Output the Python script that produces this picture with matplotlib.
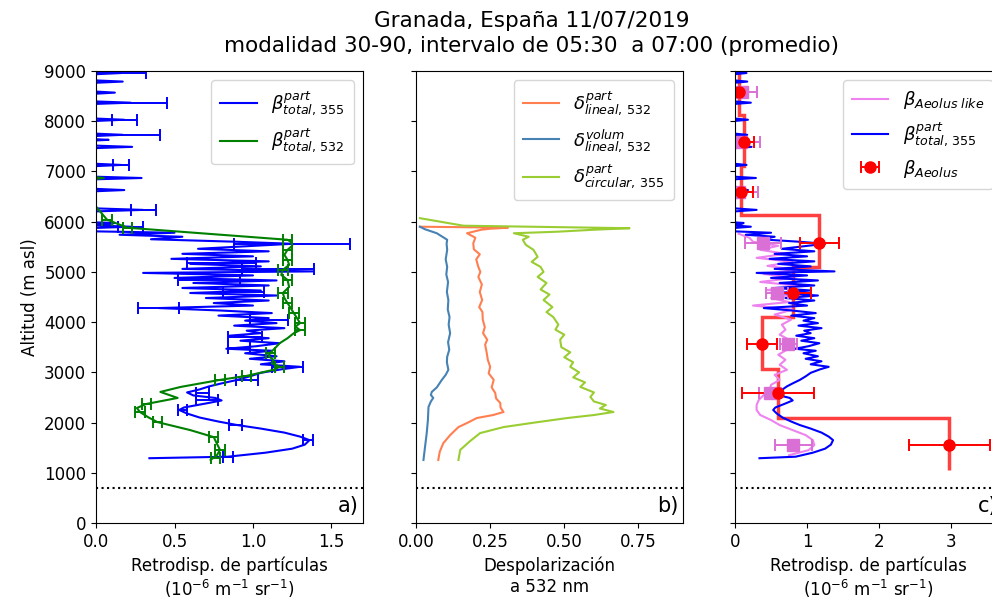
import matplotlib

matplotlib.use("Agg")
import matplotlib.pyplot as plt
import numpy as np

# --- panel a / c : particle backscatter 355 nm (lidar) ---
b355_alt = [1290, 1320, 1400, 1480, 1560, 1650, 1720, 1800, 1880, 1950, 2020, 2100, 2180, 2250,
            2300, 2380, 2440, 2490, 2540, 2600, 2660, 2720, 2780, 2850, 2920, 2990, 3060, 3110,
            3160, 3220, 3270, 3320, 3380, 3430, 3470, 3520, 3580, 3630, 3680, 3730, 3780, 3830,
            3880, 3930, 3980, 4030, 4080, 4130, 4180, 4230, 4280, 4330, 4380, 4430, 4480, 4530,
            4580, 4630, 4680, 4730, 4780, 4830, 4880, 4930, 4980, 5010, 5060, 5110, 5160, 5210,
            5260, 5310, 5360, 5410, 5460, 5510, 5560, 5600, 5650, 5700, 5740, 5780, 5810,
            5870, 5900, 5930, 5960, 5975, 5990, 6200, 6235, 6270, 6600, 6630, 6660, 6840, 6870,
            6900, 7100, 7130, 7160, 7460, 7490, 7520, 7610, 7630, 7650, 7700, 7730, 7760, 8000,
            8030, 8060, 8340, 8370, 8400, 8540, 8570, 8600, 8760, 8790, 8820, 8930, 8960, 8990]
b355_val = [0.34, 0.84, 1.08, 1.25, 1.33, 1.36, 1.3, 1.2, 1.05, 0.9, 0.78, 0.66, 0.58, 0.53,
            0.56, 0.7, 0.8, 0.76, 0.62, 0.58, 0.66, 0.72, 0.8, 0.9, 0.98, 1.05, 1.18, 1.3,
            1.05, 1.2, 0.98, 1.15, 0.95, 1.12, 0.83, 1.02, 1.17, 0.92, 1.1, 0.85, 1.05, 0.96,
            1.2, 0.88, 1.15, 0.95, 1.1, 0.78, 1.12, 0.8, 0.4, 1.0, 0.75, 1.1, 0.7, 1.15,
            0.6, 1.05, 0.55, 1.1, 0.62, 1.15, 0.5, 1.0, 0.3, 1.38, 0.55, 1.05, 0.6, 1.1,
            0.48, 1.0, 0.55, 1.1, 0.65, 0.95, 1.25, 0.9, 0.35, 0.55, 0.15, 0.5, -0.05,
            -0.05, 0.22, -0.05, 0.1, 0.12, -0.05, -0.05, 0.3, -0.05, -0.05, 0.18, -0.05, -0.05, 0.29,
            -0.05, -0.05, 0.16, -0.05, -0.05, 0.23, -0.05, -0.05, 0.08, -0.05, -0.05, 0.17, -0.05, -0.05,
            0.18, -0.05, -0.05, 0.22, -0.05, -0.05, 0.12, -0.05, -0.05, 0.17, -0.05, -0.05, 0.16, -0.05]

b355_err_alt = [1320, 1650, 1950, 2250, 2450, 2590, 2850, 3110, 3490, 3710, 4040, 4280, 4600, 4840,
                5060, 5180, 5560, 5900, 6235, 7130, 7730, 8030, 8370, 8960]
b355_err_val = [0.84, 1.35, 0.89, 0.55, 0.71, 0.68, 0.96, 1.22, 0.91, 0.95, 1.1, 0.4, 0.94, 0.72,
                1.16, 0.8, 1.25, 0.22, 0.3, 0.16, 0.17, 0.18, 0.22, 0.16]
b355_err = [0.03, 0.03, 0.04, 0.03, 0.07, 0.04, 0.07, 0.1, 0.07, 0.11, 0.12, 0.13, 0.13, 0.2,
            0.23, 0.22, 0.37, 0.08, 0.08, 0.05, 0.24, 0.08, 0.23, 0.16]

# --- panel a : particle backscatter 532 nm ---
b532_alt = [1255, 1350, 1455, 1580, 1710, 1850, 2010, 2110, 2210, 2290, 2370, 2490, 2610, 2710,
            2850, 2930, 3050, 3110, 3180, 3250, 3320, 3390, 3480, 3580, 3680, 3780, 3840, 3910,
            3980, 4080, 4180, 4280, 4380, 4480, 4580, 4700, 4840, 4940, 5040, 5140, 5240, 5340,
            5440, 5520, 5600, 5640, 5880, 6040, 6300, 6400, 6840, 6870, 6900, 7000]
b532_val = [0.73, 0.77, 0.79, 0.77, 0.75, 0.6, 0.39, 0.33, 0.28, 0.26, 0.32, 0.52, 0.41, 0.54,
            0.79, 0.96, 1.13, 1.17, 1.12, 1.13, 1.1, 1.11, 1.14, 1.17, 1.22, 1.26, 1.3, 1.27,
            1.3, 1.28, 1.26, 1.24, 1.22, 1.2, 1.19, 1.23, 1.22, 1.18, 1.19, 1.23, 1.22, 1.2,
            1.22, 1.25, 1.24, 1.22, 0.2, 0.07, 0.0, -0.05, -0.05, 0.05, -0.05, -0.05]
b532_err_alt = [1290, 1455, 1710, 2010, 2210, 2370, 2850, 2930, 3110, 3390, 3840, 3980, 4180,
                4380, 4580, 4840, 5040, 5240, 5440, 5640, 5880, 6040]
b532_err_val = [0.76, 0.79, 0.75, 0.39, 0.28, 0.32, 0.79, 0.96, 1.17, 1.11, 1.3, 1.3, 1.26,
                1.22, 1.19, 1.22, 1.19, 1.22, 1.22, 1.22, 0.2, 0.07]
b532_err = [0.03, 0.03, 0.03, 0.03, 0.03, 0.03, 0.03, 0.03, 0.03, 0.03, 0.03, 0.03, 0.03,
            0.03, 0.03, 0.03, 0.03, 0.03, 0.03, 0.03, 0.03, 0.03]

# --- panel b : depolarization ratios ---
dvol_alt = [1255, 1500, 1790, 2050, 2310, 2420, 2490, 2550, 2610, 2700, 2850, 2950, 3050, 3200,
            3310, 3450, 3600, 3780, 3950, 4100, 4250, 4440, 4600, 4800, 4950, 5100, 5250, 5440,
            5560, 5640, 5770, 5850, 5900]
dvol_val = [0.025, 0.03, 0.036, 0.04, 0.042, 0.05, 0.058, 0.05, 0.053, 0.07, 0.087, 0.1, 0.109,
            0.104, 0.105, 0.112, 0.108, 0.115, 0.11, 0.113, 0.107, 0.109, 0.104, 0.108, 0.102,
            0.105, 0.1, 0.105, 0.103, 0.105, 0.07, 0.03, 0.013]
dpart_alt = [1255, 1420, 1590, 1750, 1910, 2000, 2090, 2150, 2210, 2300, 2390, 2480, 2590, 2700,
             2850, 2980, 3110, 3250, 3400, 3550, 3650, 3780, 3900, 4050, 4200, 4300, 4440,
             4600, 4750, 4900, 5000, 5100, 5250, 5350, 5450, 5570, 5680, 5770, 5840, 5860,
             5880, 5900]
dpart_val = [0.075, 0.08, 0.092, 0.115, 0.143, 0.175, 0.205, 0.26, 0.295, 0.285, 0.284, 0.27,
             0.267, 0.255, 0.262, 0.245, 0.25, 0.242, 0.238, 0.233, 0.24, 0.226, 0.232, 0.225,
             0.224, 0.213, 0.223, 0.215, 0.222, 0.21, 0.217, 0.21, 0.203, 0.215, 0.195, 0.193,
             0.2, 0.172, 0.22, 0.25, 0.31, 0.013]
dcirc_alt = [1255, 1455, 1620, 1790, 1910, 2000, 2090, 2150, 2210, 2280, 2350, 2420, 2510, 2600,
             2710, 2800, 2900, 3000, 3110, 3200, 3300, 3400, 3500, 3650, 3750, 3850, 3950,
             4100, 4200, 4300, 4440, 4550, 4650, 4780, 4900, 5000, 5100, 5200, 5300, 5440,
             5540, 5640, 5700, 5770, 5800, 5840, 5870, 5920, 6070]
dcirc_val = [0.143, 0.149, 0.18, 0.216, 0.295, 0.4, 0.51, 0.6, 0.666, 0.62, 0.64, 0.6, 0.588,
             0.6, 0.554, 0.57, 0.53, 0.55, 0.52, 0.53, 0.5, 0.52, 0.49, 0.486, 0.5, 0.47,
             0.48, 0.463, 0.44, 0.46, 0.43, 0.45, 0.42, 0.44, 0.41, 0.43, 0.42, 0.39, 0.41,
             0.396, 0.37, 0.36, 0.38, 0.33, 0.475, 0.6, 0.72, 0.16, 0.013]

# --- panel c : Aeolus ---
alike_alt = [1350, 1450, 1550, 1650, 1750, 1850, 1950, 2050, 2150, 2250, 2350, 2450, 2550, 2650,
             2750, 2850, 2950, 3050, 3150, 3250, 3350, 3450, 3550, 3650, 3750, 3850, 3950,
             4050, 4150, 4250, 4330, 4400, 4480, 4560, 4640, 4720, 4800, 4880, 4960, 5040,
             5120, 5200, 5280, 5360, 5440, 5520, 5600, 5680, 5760]
alike_val = [0.75, 1.02, 1.1, 1.08, 0.98, 0.8, 0.62, 0.5, 0.35, 0.3, 0.3, 0.33, 0.4, 0.48,
             0.5, 0.62, 0.55, 0.72, 0.62, 0.7, 0.6, 0.72, 0.66, 0.75, 0.62, 0.7, 0.65,
             0.78, 0.55, 0.8, 0.25, 0.75, 0.5, 0.85, 0.45, 0.9, 0.35, 0.8, 0.4, 0.85,
             0.45, 0.8, 0.3, 0.7, 0.35, 0.6, 0.25, 0.2, 0.05]
alike_pt_alt = [1550, 2590, 3570, 4580, 5580, 6590, 7590, 8590]
alike_pt_val = [0.81, 0.49, 0.74, 0.58, 0.39, 0.05, 0.09, 0.1]
alike_pt_err = [0.26, 0.15, 0.12, 0.15, 0.25, 0.27, 0.26, 0.2]

aeolus_edges = [1050, 2090, 3070, 4100, 5100, 6130, 7100, 8130, 9100]
aeolus_val = [2.97, 0.6, 0.37, 0.8, 1.17, 0.08, 0.12, 0.06]
aeolus_pt_alt = [1550, 2590, 3570, 4580, 5580, 6590, 7590, 8590]
aeolus_pt_err = [0.56, 0.5, 0.21, 0.25, 0.27, 0.17, 0.15, 0.1]

station_alt = 700

plt.rcParams["font.size"] = 12

fig = plt.figure(figsize=(9.92, 6.01), dpi=100)
ax_a = fig.add_axes([0.0968, 0.1298, 0.269, 0.752])
ax_b = fig.add_axes([0.4194, 0.1298, 0.269, 0.752])
ax_c = fig.add_axes([0.7409, 0.1298, 0.269, 0.752])

lw = 1.5
cap = dict(capsize=4, elinewidth=1.4, capthick=1.4, fmt="none")
leg = dict(loc="upper right", fontsize=13, labelspacing=0.5, borderpad=0.5)

# a)
ax_a.plot(b355_val, b355_alt, color="blue", lw=lw, label=r"$\beta^{part}_{total,\,355}$")
ax_a.errorbar(b355_err_val, b355_err_alt, xerr=b355_err, ecolor="blue", **cap)
ax_a.plot(b532_val, b532_alt, color="green", lw=lw, label=r"$\beta^{part}_{total,\,532}$")
ax_a.errorbar(b532_err_val, b532_err_alt, xerr=b532_err, ecolor="green", **cap)
ax_a.set_xlim(0, 1.7)
ax_a.set_xticks([0.0, 0.5, 1.0, 1.5])
ax_a.set_ylabel("Altitud (m asl)")
ax_a.set_xlabel("Retrodisp. de partículas\n($10^{-6}$ m$^{-1}$ sr$^{-1}$)")
ax_a.legend(**leg)

# b)
ax_b.plot(dpart_val, dpart_alt, color="coral", lw=lw, label=r"$\delta^{part}_{lineal,\,532}$")
ax_b.plot(dvol_val, dvol_alt, color="steelblue", lw=lw, label=r"$\delta^{volum}_{lineal,\,532}$")
ax_b.plot(dcirc_val, dcirc_alt, color="yellowgreen", lw=lw, label=r"$\delta^{part}_{circular,\,355}$")
ax_b.set_xlim(0, 0.9)
ax_b.set_xticks([0.0, 0.25, 0.5, 0.75])
ax_b.set_xlabel("Despolarización\na 532 nm")
ax_b.set_yticklabels([])
ax_b.legend(**leg)

# c)
ax_c.stairs(aeolus_val, aeolus_edges, orientation="horizontal", baseline=None,
            color="red", lw=2.5, alpha=0.75)
ax_c.plot(alike_val, alike_alt, color="violet", lw=lw, label=r"$\beta_{Aeolus\ like}$")
ax_c.plot(b355_val, b355_alt, color="blue", lw=lw, label=r"$\beta^{part}_{total,\,355}$")
ax_c.errorbar(alike_pt_val, alike_pt_alt, xerr=alike_pt_err, fmt="s", color="orchid",
              ms=9, capsize=4, elinewidth=1.4, capthick=1.4)
ax_c.errorbar(aeolus_val, aeolus_pt_alt, xerr=aeolus_pt_err, fmt="o", color="red",
              ms=8, capsize=4, elinewidth=1.4, capthick=1.4, label=r"$\beta_{Aeolus}$")
ax_c.set_xlim(0, 3.7)
ax_c.set_xticks([0, 1, 2, 3])
ax_c.set_xlabel("Retrodisp. de partículas\n($10^{-6}$ m$^{-1}$ sr$^{-1}$)")
ax_c.set_yticklabels([])
ax_c.legend(**leg)

for ax, tag in zip((ax_a, ax_b, ax_c), ("a)", "b)", "c)")):
    ax.set_ylim(0, 9000)
    ax.set_yticks(range(0, 9001, 1000))
    ax.axhline(station_alt, color="black", ls=":", lw=1.5)
    ax.text(0.985, 0.015, tag, transform=ax.transAxes, ha="right", va="bottom", fontsize=15)

fig.text(0.536, 0.982, "Granada, España 11/07/2019\nmodalidad 30-90, intervalo de 05:30  a 07:00 (promedio)",
         ha="center", va="top", fontsize=15.5, linespacing=1.35)

fig.savefig("out.png", dpi=100)
